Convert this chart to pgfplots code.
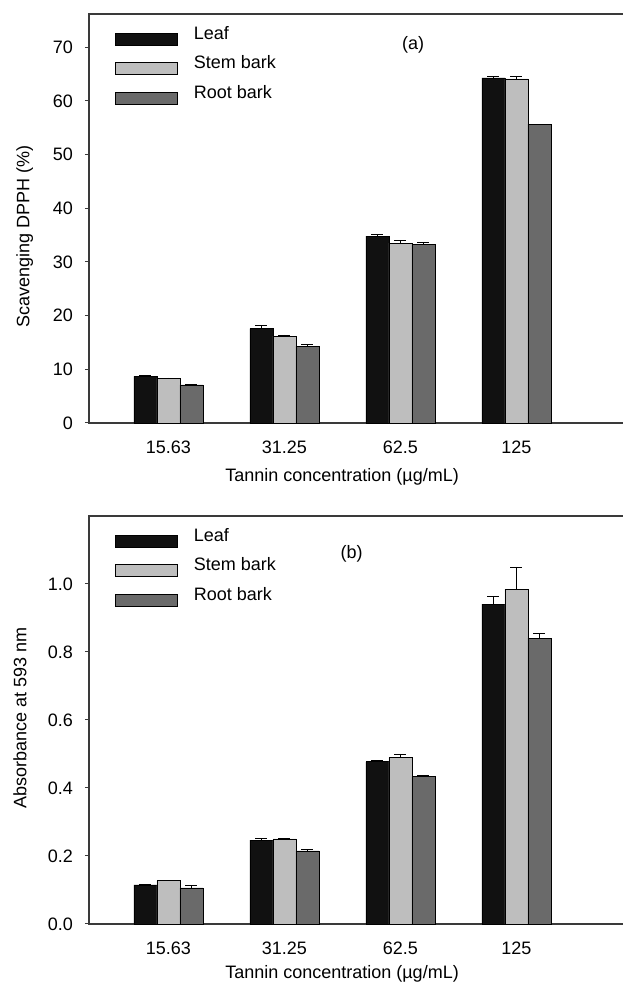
\documentclass[border=0pt]{standalone}
\usepackage{fontspec}
\setmainfont{Liberation Sans}
\usepackage{pgfplots}
\pgfplotsset{compat=1.18}
\usepackage{pgfplotstable}

\definecolor{cleaf}{HTML}{111111}
\definecolor{cstem}{HTML}{BEBEBE}
\definecolor{croot}{HTML}{6A6A6A}
\definecolor{cframe}{HTML}{3A3A3A}

\pgfplotstableread{
x leaf leafe stem steme root roote
0 8.7 0.2 8.3 0.1 7.1 0.1
1 17.6 0.6 16.2 0.2 14.3 0.3
2 34.8 0.4 33.5 0.5 33.2 0.4
3 64.3 0.3 64.1 0.5 55.7 0.0
}\dpph

\pgfplotstableread{
x leaf leafe stem steme root roote
0 0.115 0.002 0.127 0.002 0.106 0.008
1 0.247 0.004 0.250 0.002 0.215 0.003
2 0.477 0.003 0.490 0.010 0.433 0.005
3 0.941 0.022 0.985 0.065 0.841 0.014
}\frap

\newcommand{\ff}{\fontsize{18}{21}\selectfont}

\pgfplotsset{
  panel/.style={
    scale only axis, width=535pt,
    xmin=-0.685, xmax=3.927,
    ybar=0pt, bar width=23pt,
    xtick={0,1,2,3}, xticklabels={15.63,31.25,62.5,125},
    major x tick style={draw=none},
    axis line style={cframe, line width=1.3pt},
    major y tick style={cframe, line width=1pt},
    tick align=outside, major tick length=4pt,
    ytick pos=left, xtick pos=bottom,
    tick label style={font=\ff},
    /pgf/number format/assume math mode=true,
    xticklabel style={anchor=center, yshift=-20pt},
    yticklabel style={anchor=east, inner sep=0pt, xshift=-12pt},
    legend style={at={(axis description cs:0,1)}, anchor=north west,
      xshift=26pt, yshift=-12pt, draw=none, fill=none, inner sep=0pt,
      font=\ff, row sep=10pt,
      nodes={inner sep=0pt, anchor=base west},
      /tikz/every odd column/.append style={column sep=16pt}},
    legend cell align=left,
    legend image code/.code={\draw[#1] (0pt,-6pt) rectangle (62pt,6pt);},
    clip=false,
  },
  bars/.style={draw=black, line width=0.7pt,
    error bars/.cd, y dir=plus, y explicit,
    error mark=|,
    error bar style={line width=0.8pt, black},
    error mark options={mark size=6pt, line width=0.8pt, black}},
}

\begin{document}
\begin{tikzpicture}
\useasboundingbox (0,0) rectangle (623pt,988pt);

\begin{axis}[panel, at={(89pt,565pt)}, anchor=south west, height=409pt,
  ymin=0, ymax=76.2, ytick={0,10,...,70},
  xlabel={Tannin concentration (µg/mL)},
  ylabel={Scavenging DPPH (\%)},
  every axis x label/.style={at={(axis description cs:0.473,0)}, anchor=center, yshift=-54pt, font=\ff},
  every axis y label/.style={at={(axis description cs:-0.12,0.455)}, rotate=90, anchor=center, font=\ff},
]
\addplot[fill=cleaf, bars] table[x=x, y=leaf, y error=leafe] {\dpph};
\addlegendentry{Leaf}
\addplot[fill=cstem, bars] table[x=x, y=stem, y error=steme] {\dpph};
\addlegendentry{Stem bark}
\addplot[fill=croot, bars] table[x=x, y=root, y error=roote] {\dpph};
\addlegendentry{Root bark}
\node[font=\ff] at (axis cs:2.11,70.4) {(a)};
\end{axis}

\begin{axis}[panel, at={(89pt,64pt)}, anchor=south west, height=408pt,
  ymin=0, ymax=1.2, ytick={0,0.2,...,1.0},
  yticklabel style={/pgf/number format/fixed, /pgf/number format/precision=1, /pgf/number format/fixed zerofill},
  xlabel={Tannin concentration (µg/mL)},
  ylabel={Absorbance at 593 nm},
  every axis x label/.style={at={(axis description cs:0.473,0)}, anchor=center, yshift=-50pt, font=\ff},
  every axis y label/.style={at={(axis description cs:-0.129,0.505)}, rotate=90, anchor=center, font=\ff},
]
\addplot[fill=cleaf, bars] table[x=x, y=leaf, y error=leafe] {\frap};
\addlegendentry{Leaf}
\addplot[fill=cstem, bars] table[x=x, y=stem, y error=steme] {\frap};
\addlegendentry{Stem bark}
\addplot[fill=croot, bars] table[x=x, y=root, y error=roote] {\frap};
\addlegendentry{Root bark}
\node[font=\ff] at (axis cs:1.58,1.088) {(b)};
\end{axis}
\end{tikzpicture}
\end{document}
